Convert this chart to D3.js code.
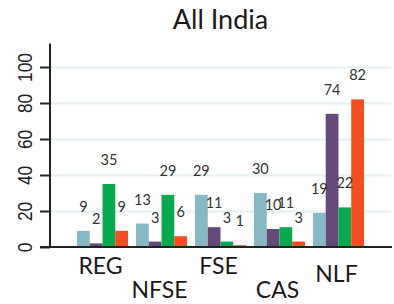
<!DOCTYPE html>
<html>
<head>
<meta charset="utf-8">
<script src="https://cdn.jsdelivr.net/npm/d3@7"></script>
<style>
  body { margin: 0; background: #fff; }
  svg { display: block; }
</style>
</head>
<body>
<svg width="394" height="304"></svg>
<script>
"use strict";

// data
const categories = ["REG", "NFSE", "FSE", "CAS", "NLF"];
const series = ["s1", "s2", "s3", "s4"];
const s1 = [9, 13, 29, 30, 19];
const s2 = [2, 3, 11, 10, 74];
const s3 = [35, 29, 3, 11, 22];
const s4 = [9, 6, 1, 3, 82];
const yTicks = [0, 20, 40, 60, 80, 100];
const title = "All India";

const colors = ["#86b9c4", "#634a7b", "#0aa84f", "#f14f23"];
// staggered x labels (extra drop per category)
const labelDrop = [0, 24, 0, 24, 8];

var svg = d3.select("svg");
const left = 50, right = 391, base = 247;

var y = d3.scaleLinear().domain([0, 113]).range([base, base - 113 * 1.8]);
var x = d3.scaleBand().domain(categories).range([left, right])
  .paddingInner(0.135).paddingOuter(0.458);
var xs = d3.scaleBand().domain(series).range([0, x.bandwidth()]);

var rows = categories.map(function(c, i) {
  return {cat: c, vals: [s1[i], s2[i], s3[i], s4[i]]};
});

//gridlines
svg.append("g")
  .attr("transform", "translate(" + left + ",0)")
  .call(d3.axisLeft(y).tickValues(yTicks.slice(1)).tickSize(-(right - left)).tickFormat(""))
  .call(g => g.select(".domain").remove())
  .selectAll("line").attr("stroke", "#e6f1f1").attr("stroke-width", 2);

//bars
var grp = svg.append("g").selectAll("g").data(rows).join("g")
  .attr("transform", d => "translate(" + x(d.cat) + ",0)");

grp.selectAll("rect").data(d => d.vals.map((v, j) => ({k: series[j], v: v, j: j})))
  .join("rect")
  .attr("x", d => xs(d.k))
  .attr("width", xs.bandwidth())
  .attr("y", d => y(d.v))
  .attr("height", d => base - y(d.v))
  .attr("fill", d => colors[d.j]);

grp.selectAll("text").data(d => d.vals.map((v, j) => ({k: series[j], v: v})))
  .join("text")
  .attr("x", d => xs(d.k) + xs.bandwidth() / 2)
  .attr("y", d => y(d.v) - 19)
  .attr("text-anchor", "middle")
  .attr("font-family", "Lato, sans-serif")
  .attr("font-size", 14.5)
  .attr("fill", "#333")
  .text(d => d.v);

//y axis
var yAxis = svg.append("g")
  .attr("transform", "translate(" + left + ",0)")
  .call(d3.axisLeft(y).tickValues(yTicks).tickSize(10).tickPadding(0));
yAxis.select(".domain").remove();
yAxis.selectAll("line").attr("stroke", "#222").attr("stroke-width", 2);
yAxis.selectAll("text")
  .attr("x", null).attr("dy", null)
  .attr("transform", "translate(-26,0) rotate(-90)")
  .attr("text-anchor", "middle")
  .attr("dominant-baseline", "central")
  .attr("font-family", "'Liberation Sans', Arial, sans-serif")
  .attr("font-size", 21)
  .attr("textLength", d => String(d).length * 9.6)
  .attr("lengthAdjust", "spacingAndGlyphs")
  .attr("fill", "#222");

svg.append("line")
  .attr("x1", left).attr("x2", left)
  .attr("y1", y(113)).attr("y2", base)
  .attr("stroke", "#222").attr("stroke-width", 2);
svg.append("line")
  .attr("x1", left - 10).attr("x2", right + 1)
  .attr("y1", base).attr("y2", base)
  .attr("stroke", "#222").attr("stroke-width", 2);

//x labels
svg.append("g").selectAll("text").data(categories).join("text")
  .attr("x", d => x(d) + x.bandwidth() / 2 - 2)
  .attr("y", (d, i) => 274 + labelDrop[i])
  .attr("text-anchor", "middle")
  .attr("font-family", "Lato, sans-serif")
  .attr("font-size", 23)
  .attr("fill", "#1a1a1a")
  .text(d => d);

//title
svg.append("text")
  .attr("x", (left + right) / 2)
  .attr("y", 29)
  .attr("text-anchor", "middle")
  .attr("font-family", "Lato, sans-serif")
  .attr("font-size", 27)
  .attr("fill", "#1a1a1a")
  .text(title);
</script>
</body>
</html>
